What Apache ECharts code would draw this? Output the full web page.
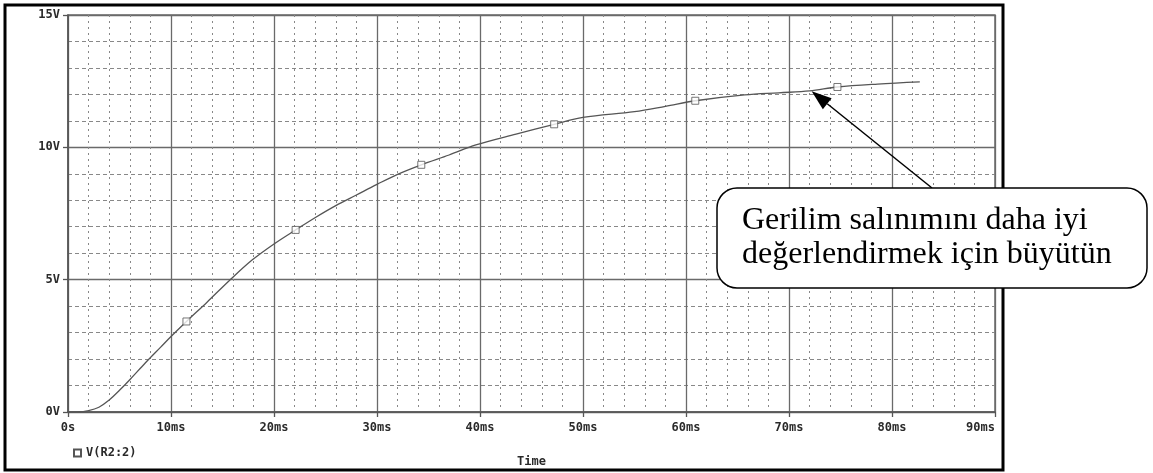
<!DOCTYPE html>
<html>
<head>
<meta charset="utf-8">
<script src="https://cdn.jsdelivr.net/npm/echarts@6/dist/echarts.min.js"></script>
<style>
  html, body { margin: 0; padding: 0; background: #fff; }
  #chart { width: 1153px; height: 473px; }
</style>
</head>
<body>
<div id="chart"></div>
<script>
  // time in ms, voltage in V
  const timeMs = [0, 1, 2, 3, 4, 5, 6, 7.5, 9, 10, 11.5, 13.5, 15.7, 17.9, 20, 22.1, 24.1, 26, 28, 30, 32, 34.3,
    37, 39.6, 43.5, 47.2, 50, 55, 58, 60.9, 65.7, 69, 72, 74.7, 78.6, 82.7]
  const voltage = [0, 0.0, 0.05, 0.18, 0.45, 0.82, 1.22, 1.85, 2.45, 2.85, 3.42, 4.15, 4.98, 5.75, 6.35, 6.88, 7.37, 7.8, 8.2, 8.6, 8.98, 9.34,
    9.71, 10.09, 10.5, 10.87, 11.13, 11.35, 11.55, 11.76, 11.98, 12.06, 12.13, 12.28, 12.39, 12.47]
  // marker positions on the trace
  const markT = [11.5, 22.1, 34.3, 47.2, 60.9, 74.7]
  const markV = [3.42, 6.88, 9.34, 10.87, 11.76, 12.28]
  const xTicks = [0, 10, 20, 30, 40, 50, 60, 70, 80, 90]
  const yTicks = [0, 5, 10, 15]
  const seriesName = 'V(R2:2)'
  const noteText = 'Gerilim salınımını daha iyi\ndeğerlendirmek için büyütün'
  const arrowTip = [72.2, 12.12]

  const labelFont = { fontFamily: 'DejaVu Sans Mono', fontWeight: 'bold', fontSize: 12, color: '#2a2a2a' }

  const chart = echarts.init(document.getElementById('chart'))
  chart.setOption({
    animation: false,
    backgroundColor: '#fff',
    grid: { left: 68, right: 158, top: 15, bottom: 55, show: true, borderColor: '#6a6a6a', borderWidth: 1.5 },
    xAxis: {
      type: 'value',
      min: xTicks[0],
      max: xTicks[xTicks.length - 1],
      interval: 10,
      name: 'Time',
      nameLocation: 'middle',
      nameGap: 44,
      nameTextStyle: labelFont,
      axisLine: { lineStyle: { color: '#555', width: 1.5 } },
      axisTick: { show: true, length: 5, lineStyle: { color: '#555', width: 1.3 } },
      axisLabel: Object.assign({ margin: 10, alignMaxLabel: 'right', formatter: v => v === 0 ? '0s' : v + 'ms' }, labelFont),
      splitLine: { lineStyle: { color: '#6a6a6a', width: 1.3 } },
      minorTick: { show: false, splitNumber: 5 },
      minorSplitLine: { show: true, lineStyle: { color: '#888', width: 1, type: [2, 4] } }
    },
    yAxis: {
      type: 'value',
      min: yTicks[0],
      max: yTicks[yTicks.length - 1],
      interval: 5,
      axisLine: { lineStyle: { color: '#555', width: 1.5 } },
      axisTick: { show: true, length: 5, lineStyle: { color: '#555', width: 1.3 } },
      axisLabel: Object.assign({ margin: 8, formatter: v => v + 'V' }, labelFont),
      splitLine: { lineStyle: { color: '#6a6a6a', width: 1.3 } },
      minorTick: { show: false, splitNumber: 5 },
      minorSplitLine: { show: true, lineStyle: { color: '#888', width: 1, type: [4, 3] } }
    },
    legend: {
      left: 68,
      top: 442,
      icon: 'rect',
      itemWidth: 7,
      itemHeight: 7,
      itemGap: 6,
      data: [seriesName],
      textStyle: labelFont
    },
    series: [
      {
        name: seriesName,
        type: 'line',
        smooth: 0.35,
        showSymbol: false,
        data: timeMs.map((t, i) => [t, voltage[i]]),
        lineStyle: { color: '#555', width: 1.3 },
        itemStyle: { color: '#fff', borderColor: '#555', borderWidth: 1 }
      },
      {
        name: seriesName,
        type: 'scatter',
        symbol: 'rect',
        symbolSize: 7,
        data: markT.map((t, i) => [t, markV[i]]),
        itemStyle: { color: '#fff', borderColor: '#555', borderWidth: 1 },
        z: 3
      }
    ]
  })

  // annotation: rounded box + arrow pointing at the trace
  const tip = chart.convertToPixel({ gridIndex: 0 }, arrowTip)
  const tail = [932, 188]
  const ang = Math.atan2(tip[1] - tail[1], tip[0] - tail[0])
  const headLen = 20, headW = 7
  const bx = tip[0] - headLen * Math.cos(ang), by = tip[1] - headLen * Math.sin(ang)
  const head = [
    tip,
    [bx + headW * Math.sin(ang), by - headW * Math.cos(ang)],
    [bx - headW * Math.sin(ang), by + headW * Math.cos(ang)]
  ]

  chart.setOption({
    graphic: [
      { type: 'rect', shape: { x: 5, y: 5, width: 998, height: 465 }, style: { fill: 'none', stroke: '#000', lineWidth: 3 }, z: 10 },
      { type: 'line', shape: { x1: tail[0], y1: tail[1], x2: bx, y2: by }, style: { stroke: '#000', lineWidth: 1.5 }, z: 11 },
      { type: 'polygon', shape: { points: head }, style: { fill: '#000' }, z: 11 },
      { type: 'rect', shape: { x: 717, y: 188, width: 430, height: 100, r: 20 }, style: { fill: '#fff', stroke: '#000', lineWidth: 1.5 }, z: 12 },
      { type: 'text', x: 742, y: 204, style: { text: noteText, font: '32px "Liberation Serif"', lineHeight: 34, fill: '#000' }, z: 13 }
    ]
  })
</script>
</body>
</html>
